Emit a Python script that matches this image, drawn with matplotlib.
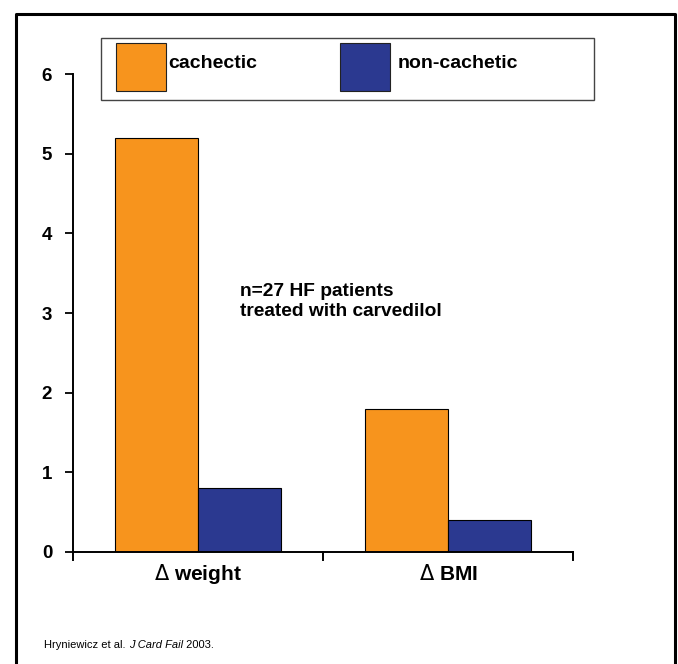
import matplotlib
matplotlib.use("Agg")
import matplotlib.pyplot as plt
from matplotlib.patches import Rectangle
from matplotlib.lines import Line2D
from matplotlib.transforms import blended_transform_factory

categories = [r"$\Delta$ weight", r"$\Delta$ BMI"]
series_names = ["cachectic", "non-cachetic"]
cachectic = [5.2, 1.8]
non_cachectic = [0.8, 0.4]
yticks = [0, 1, 2, 3, 4, 5, 6]

colors = ["#F7941D", "#2B3990"]

W, H = 678, 664
plt.rcParams['font.family'] = ['Liberation Sans', 'DejaVu Sans']
plt.rcParams['mathtext.fontset'] = 'dejavusans'
fig = plt.figure(figsize=(W / 100, H / 100), dpi=100)

def fx(px):
    return px / W

def fy(py):
    return 1 - py / H

# outer frame (left, top, right)
fig.add_artist(Line2D([fx(16), fx(16), fx(675), fx(675)],
                      [fy(700), fy(14), fy(14), fy(700)],
                      transform=fig.transFigure, color="black", lw=2.2))

ax = fig.add_axes([fx(73), fy(552), fx(573) - fx(73), fy(74) - fy(552)])
x = [0.5 + i for i in range(len(categories))]
bw = 1 / 3
ax.bar([xi - bw / 2 for xi in x], cachectic, width=bw, color=colors[0],
       edgecolor="black", linewidth=0.8)
ax.bar([xi + bw / 2 for xi in x], non_cachectic, width=bw, color=colors[1],
       edgecolor="black", linewidth=0.8)
ax.set_xlim(0, 2)
ax.set_ylim(0, 6)
ax.set_yticks(yticks)
ax.set_yticklabels([str(t) for t in yticks], fontsize=13.5, fontweight="bold")
ax.set_xticks([0, 1, 2])
ax.set_xticklabels([])
ax.tick_params(axis="x", which="major", direction="in", length=0)
ax.tick_params(axis="y", direction="out", length=6, width=1.3, pad=9)
for s in ["top", "right"]:
    ax.spines[s].set_visible(False)
for s in ["left", "bottom"]:
    ax.spines[s].set_linewidth(1.4)
# downward x ticks
for xt in [0, 1, 2]:
    ax.plot([xt, xt], [0, -0.1], color="black", lw=1.4, clip_on=False)

# category labels on a common baseline
trans = blended_transform_factory(ax.transData, fig.transFigure)
for xi, lab in zip(x, categories):
    ax.text(xi, fy(580), lab, transform=trans, fontsize=15, fontweight="bold",
            ha="center", va="baseline")

ax.text(0.67, 3.14, "n=27 HF patients\ntreated with carvedilol", fontsize=13.8,
        fontweight="bold", va="center", ha="left", linespacing=1.25)

# legend box
fig.add_artist(Rectangle((fx(101), fy(100)), fx(594) - fx(101), fy(38) - fy(100),
                         transform=fig.transFigure, fill=False,
                         edgecolor="#444444", lw=1.0))
leg_x = [116, 340]
txt_x = [168, 398]
for i, name in enumerate(series_names):
    fig.add_artist(Rectangle((fx(leg_x[i]), fy(91)), fx(50), 48 / H,
                             transform=fig.transFigure, facecolor=colors[i],
                             edgecolor="#222222", lw=0.8))
    fig.text(fx(txt_x[i]), fy(63), name, fontsize=14, fontweight="bold",
             va="center", ha="left")

# citation with mixed styles
renderer = fig.canvas.get_renderer()
cx = 44
for part, st in [("Hryniewicz et al. ", "normal"), ("J Card Fail", "italic"),
                 (" 2003.", "normal")]:
    t = fig.text(fx(cx), fy(645), part, fontsize=8, style=st,
                 va="center", ha="left")
    bb = t.get_window_extent(renderer=renderer)
    cx += bb.width

fig.savefig("out.png", dpi=100)
